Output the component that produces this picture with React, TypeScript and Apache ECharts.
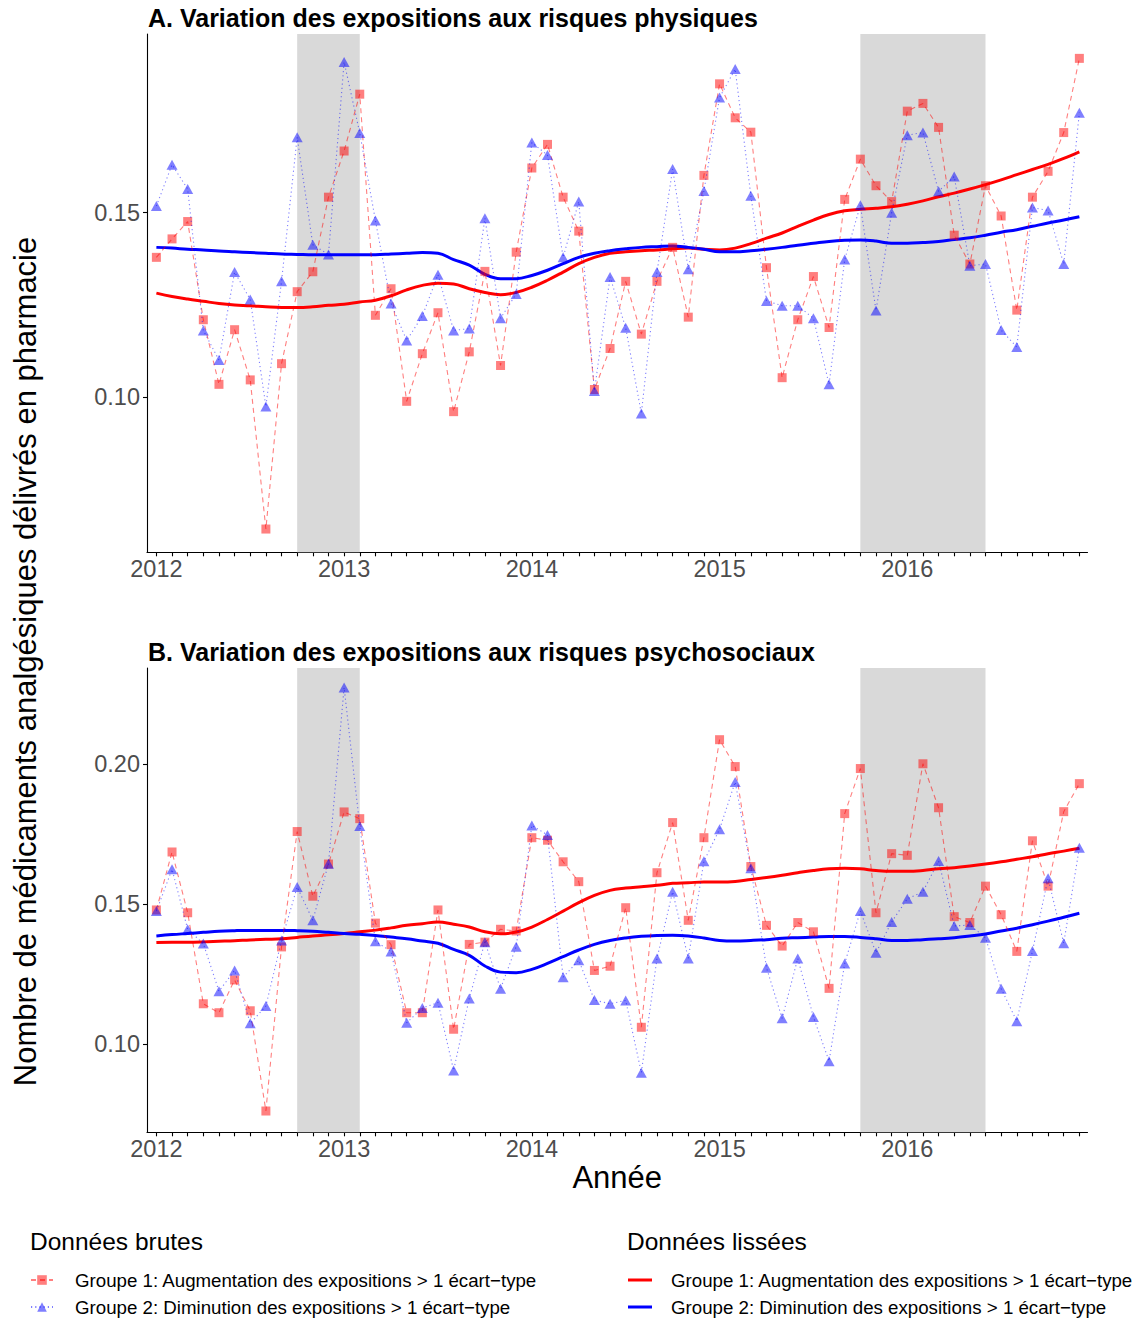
import React, { useEffect, useRef } from 'react';
import * as echarts from 'echarts';

// ---- categories / ticks ----
const MONTHS: number[] = Array.from({ length: 60 }, (_, i) => 2012 + i / 12);
const YEAR_TICKS = [2012, 2013, 2014, 2015, 2016];
const Y_TICKS_A = [0.1, 0.15];
const Y_TICKS_B = [0.1, 0.15, 0.2];
const SHADED: [number, number][] = [
  [2012.75, 2013 + 1 / 12],
  [2015.75, 2016 + 5 / 12],
];

// ---- names ----
const G1 = 'Groupe 1: Augmentation des expositions > 1 écart−type';
const G2 = 'Groupe 2: Diminution des expositions > 1 écart−type';
const SM = ' (lissé)';

// ---- Panel A: risques physiques ----
const A_RAW_G1 = [0.1379, 0.1429, 0.1476, 0.1210, 0.1035, 0.1183, 0.1047, 0.0643, 0.1091, 0.1286, 0.1340, 0.1542, 0.1667, 0.1821, 0.1222, 0.1294, 0.0989, 0.1118, 0.1229, 0.0961, 0.1123, 0.1341, 0.1086, 0.1393, 0.1621, 0.1685, 0.1542, 0.1450, 0.1021, 0.1132, 0.1314, 0.1171, 0.1314, 0.1406, 0.1217, 0.1601, 0.1849, 0.1757, 0.1718, 0.1351, 0.1053, 0.1210, 0.1327, 0.1189, 0.1536, 0.1645, 0.1573, 0.1530, 0.1775, 0.1796, 0.1731, 0.1439, 0.1361, 0.1573, 0.1491, 0.1236, 0.1542, 0.1612, 0.1717, 0.1918];
const A_RAW_G2 = [0.1518, 0.1630, 0.1564, 0.1181, 0.1101, 0.1339, 0.1265, 0.0975, 0.1314, 0.1704, 0.1413, 0.1387, 0.1908, 0.1716, 0.1479, 0.1254, 0.1154, 0.1220, 0.1332, 0.1181, 0.1186, 0.1485, 0.1214, 0.1280, 0.1690, 0.1656, 0.1379, 0.1530, 0.1017, 0.1326, 0.1188, 0.0956, 0.1339, 0.1618, 0.1347, 0.1559, 0.1812, 0.1889, 0.1546, 0.1261, 0.1248, 0.1248, 0.1214, 0.1035, 0.1373, 0.1520, 0.1235, 0.1500, 0.1710, 0.1717, 0.1558, 0.1598, 0.1356, 0.1361, 0.1182, 0.1136, 0.1514, 0.1506, 0.1361, 0.1771];
const A_SMOOTH_G1 = [0.1282, 0.1273, 0.1266, 0.1260, 0.1254, 0.1250, 0.1248, 0.1245, 0.1243, 0.1243, 0.1245, 0.1249, 0.1252, 0.1258, 0.1263, 0.1275, 0.1291, 0.1303, 0.1309, 0.1307, 0.1294, 0.1284, 0.1278, 0.1284, 0.1298, 0.1317, 0.1339, 0.1362, 0.1379, 0.1390, 0.1394, 0.1397, 0.1399, 0.1402, 0.1404, 0.1401, 0.1399, 0.1404, 0.1416, 0.1431, 0.1445, 0.1463, 0.1480, 0.1495, 0.1505, 0.1509, 0.1512, 0.1516, 0.1523, 0.1532, 0.1543, 0.1553, 0.1564, 0.1576, 0.1589, 0.1603, 0.1617, 0.1631, 0.1647, 0.1665];
const A_SMOOTH_G2 = [0.1406, 0.1404, 0.1401, 0.1399, 0.1396, 0.1394, 0.1392, 0.1390, 0.1388, 0.1387, 0.1386, 0.1386, 0.1386, 0.1386, 0.1386, 0.1388, 0.1390, 0.1392, 0.1390, 0.1373, 0.1358, 0.1333, 0.1321, 0.1321, 0.1330, 0.1344, 0.1362, 0.1379, 0.1390, 0.1397, 0.1402, 0.1406, 0.1408, 0.1410, 0.1406, 0.1401, 0.1394, 0.1394, 0.1397, 0.1401, 0.1406, 0.1412, 0.1417, 0.1422, 0.1425, 0.1426, 0.1423, 0.1417, 0.1417, 0.1419, 0.1422, 0.1427, 0.1432, 0.1439, 0.1447, 0.1454, 0.1463, 0.1472, 0.1480, 0.1489];

// ---- Panel B: risques psychosociaux ----
const B_RAW_G1 = [0.1480, 0.1687, 0.1470, 0.1145, 0.1113, 0.1230, 0.1120, 0.0762, 0.1348, 0.1760, 0.1529, 0.1644, 0.1830, 0.1806, 0.1433, 0.1356, 0.1113, 0.1113, 0.1480, 0.1054, 0.1357, 0.1365, 0.1411, 0.1405, 0.1738, 0.1729, 0.1652, 0.1581, 0.1264, 0.1279, 0.1488, 0.1061, 0.1613, 0.1792, 0.1443, 0.1738, 0.2088, 0.1992, 0.1635, 0.1425, 0.1351, 0.1435, 0.1402, 0.1200, 0.1824, 0.1985, 0.1470, 0.1681, 0.1675, 0.2002, 0.1845, 0.1456, 0.1435, 0.1565, 0.1463, 0.1332, 0.1727, 0.1565, 0.1831, 0.1931];
const B_RAW_G2 = [0.1476, 0.1625, 0.1411, 0.1360, 0.1190, 0.1264, 0.1075, 0.1137, 0.1371, 0.1562, 0.1443, 0.1645, 0.2274, 0.1780, 0.1368, 0.1332, 0.1077, 0.1130, 0.1149, 0.0907, 0.1164, 0.1365, 0.1199, 0.1349, 0.1782, 0.1748, 0.1240, 0.1300, 0.1158, 0.1145, 0.1157, 0.0899, 0.1307, 0.1545, 0.1307, 0.1654, 0.1768, 0.1937, 0.1629, 0.1274, 0.1093, 0.1307, 0.1098, 0.0940, 0.1289, 0.1476, 0.1327, 0.1437, 0.1520, 0.1545, 0.1655, 0.1423, 0.1426, 0.1381, 0.1199, 0.1083, 0.1333, 0.1593, 0.1361, 0.1702];
const B_SMOOTH_G1 = [0.1364, 0.1365, 0.1365, 0.1366, 0.1368, 0.1370, 0.1373, 0.1375, 0.1377, 0.1382, 0.1387, 0.1391, 0.1396, 0.1402, 0.1408, 0.1416, 0.1425, 0.1431, 0.1437, 0.1429, 0.1419, 0.1402, 0.1395, 0.1401, 0.1419, 0.1446, 0.1476, 0.1506, 0.1532, 0.1550, 0.1558, 0.1563, 0.1568, 0.1575, 0.1577, 0.1580, 0.1580, 0.1582, 0.1589, 0.1596, 0.1604, 0.1613, 0.1621, 0.1627, 0.1629, 0.1627, 0.1621, 0.1618, 0.1618, 0.1621, 0.1627, 0.1631, 0.1637, 0.1644, 0.1652, 0.1661, 0.1670, 0.1681, 0.1690, 0.1700];
const B_SMOOTH_G2 = [0.1387, 0.1392, 0.1396, 0.1400, 0.1404, 0.1406, 0.1407, 0.1407, 0.1407, 0.1406, 0.1404, 0.1400, 0.1396, 0.1393, 0.1389, 0.1383, 0.1377, 0.1369, 0.1361, 0.1339, 0.1318, 0.1280, 0.1258, 0.1256, 0.1268, 0.1289, 0.1313, 0.1337, 0.1357, 0.1371, 0.1380, 0.1386, 0.1389, 0.1390, 0.1387, 0.1380, 0.1371, 0.1369, 0.1371, 0.1374, 0.1379, 0.1381, 0.1383, 0.1385, 0.1385, 0.1382, 0.1377, 0.1371, 0.1371, 0.1374, 0.1377, 0.1381, 0.1387, 0.1394, 0.1405, 0.1415, 0.1427, 0.1440, 0.1454, 0.1468];

const TITLE_A = 'A. Variation des expositions aux risques physiques';
const TITLE_B = 'B. Variation des expositions aux risques psychosociaux';
const Y_TITLE = 'Nombre de médicaments analgésiques délivrés en pharmacie';
const X_TITLE = 'Année';
const LEG_RAW = 'Données brutes';
const LEG_SMOOTH = 'Données lissées';

const FONT = '"Liberation Sans", Arial, Helvetica, sans-serif';
const RED_A = 'rgba(255,0,0,0.5)';
const BLUE_A = 'rgba(0,0,255,0.5)';

const pair = (vals: number[]) => vals.map((v, i) => [MONTHS[i], v]);

function xAxisFor(gridIndex: number, withName: boolean) {
  return {
    type: 'value',
    gridIndex,
    min: 2011.95,
    max: 2016.96,
    name: withName ? X_TITLE : '',
    nameLocation: 'middle',
    nameGap: 30,
    nameTextStyle: { fontSize: 31, color: '#000', fontFamily: FONT },
    axisLine: { show: true, lineStyle: { color: '#000', width: 1.1 } },
    axisTick: { show: true, customValues: MONTHS, length: 4, lineStyle: { color: '#000', width: 1.1 } },
    axisLabel: {
      show: true,
      customValues: YEAR_TICKS,
      formatter: (v: number) => String(Math.round(v)),
      fontSize: 23.5,
      color: '#4D4D4D',
      margin: 5,
      fontFamily: FONT,
    },
    splitLine: { show: false },
  };
}

function yAxisFor(gridIndex: number, min: number, max: number, ticks: number[]) {
  return {
    type: 'value',
    gridIndex,
    min,
    max,
    axisLine: { show: true, lineStyle: { color: '#000', width: 1.1 } },
    axisTick: { show: true, customValues: ticks, length: 4, lineStyle: { color: '#000', width: 1.1 } },
    axisLabel: {
      show: true,
      customValues: ticks,
      formatter: (v: number) => v.toFixed(2),
      fontSize: 23.5,
      color: '#4D4D4D',
      margin: 7,
      fontFamily: FONT,
    },
    splitLine: { show: false },
  };
}

function panelSeries(idx: number, rawG1: number[], rawG2: number[], smG1: number[], smG2: number[]) {
  return [
    {
      type: 'line',
      name: 'shade' + idx,
      xAxisIndex: idx,
      yAxisIndex: idx,
      data: [],
      silent: true,
      markArea: {
        silent: true,
        itemStyle: { color: '#D9D9D9' },
        data: SHADED.map(([a, b]) => [{ xAxis: a }, { xAxis: b }]),
      },
    },
    {
      type: 'line',
      name: G1 + SM,
      xAxisIndex: idx,
      yAxisIndex: idx,
      data: pair(smG1),
      symbol: 'none',
      smooth: 0.4,
      z: 3,
      lineStyle: { color: '#FF0000', width: 3 },
      itemStyle: { color: '#FF0000' },
    },
    {
      type: 'line',
      name: G2 + SM,
      xAxisIndex: idx,
      yAxisIndex: idx,
      data: pair(smG2),
      symbol: 'none',
      smooth: 0.4,
      z: 3,
      lineStyle: { color: '#0000FF', width: 3 },
      itemStyle: { color: '#0000FF' },
    },
    {
      type: 'line',
      name: G1,
      xAxisIndex: idx,
      yAxisIndex: idx,
      data: pair(rawG1),
      symbol: 'rect',
      symbolSize: 9,
      z: 4,
      lineStyle: { color: RED_A, width: 1.1, type: [5, 4] },
      itemStyle: { color: RED_A },
    },
    {
      type: 'line',
      name: G2,
      xAxisIndex: idx,
      yAxisIndex: idx,
      data: pair(rawG2),
      symbol: 'triangle',
      symbolSize: [11, 10],
      z: 5,
      lineStyle: { color: BLUE_A, width: 1.1, type: [1.2, 3] },
      itemStyle: { color: BLUE_A },
    },
  ];
}

export default function App() {
  const ref = useRef<HTMLDivElement>(null);

  useEffect(() => {
    if (!ref.current) return;
    const chart = echarts.init(ref.current, undefined, { renderer: 'svg' });
    const option: any = {
      animation: false,
      backgroundColor: '#FFFFFF',
      textStyle: { fontFamily: FONT },
      grid: [
        { left: 147, right: 51.5, top: 34, height: 518.3 },
        { left: 147, right: 51.5, top: 668, height: 464.3 },
      ],
      xAxis: [xAxisFor(0, false), xAxisFor(1, true)],
      yAxis: [yAxisFor(0, 0.058, 0.1984, Y_TICKS_A), yAxisFor(1, 0.0686, 0.2344, Y_TICKS_B)],
      legend: [
        {
          data: [G1, G2],
          orient: 'vertical',
          left: 30,
          top: 1270,
          padding: 0,
          itemWidth: 22,
          itemHeight: 12,
          itemGap: 7,
          selectedMode: false,
          textStyle: { fontSize: 18.7, color: '#000', fontFamily: FONT, lineHeight: 20, padding: [0, 0, 0, 17] },
        },
        {
          data: [
            { name: G1 + SM, icon: 'rect', itemStyle: { color: '#FF0000' } },
            { name: G2 + SM, icon: 'rect', itemStyle: { color: '#0000FF' } },
          ],
          orient: 'vertical',
          left: 628,
          top: 1270,
          padding: 0,
          itemWidth: 24,
          itemHeight: 3,
          itemGap: 7,
          selectedMode: false,
          formatter: (name: string) => name.replace(SM, ''),
          textStyle: { fontSize: 18.7, color: '#000', fontFamily: FONT, lineHeight: 20, padding: [0, 0, 0, 14] },
        },
      ],
      graphic: [
        {
          type: 'text',
          x: 148,
          y: 18,
          style: { text: TITLE_A, font: `bold 25px ${FONT}`, fill: '#000', align: 'left', verticalAlign: 'middle' },
        },
        {
          type: 'text',
          x: 148,
          y: 652,
          style: { text: TITLE_B, font: `bold 25px ${FONT}`, fill: '#000', align: 'left', verticalAlign: 'middle' },
        },
        {
          type: 'text',
          x: 25,
          y: 661.5,
          rotation: Math.PI / 2,
          style: { text: Y_TITLE, font: `31px ${FONT}`, fill: '#000', align: 'center', verticalAlign: 'middle' },
        },
        {
          type: 'text',
          x: 30,
          y: 1241,
          style: { text: LEG_RAW, font: `24.5px ${FONT}`, fill: '#000', align: 'left', verticalAlign: 'middle' },
        },
        {
          type: 'text',
          x: 627,
          y: 1241,
          style: { text: LEG_SMOOTH, font: `24.5px ${FONT}`, fill: '#000', align: 'left', verticalAlign: 'middle' },
        },
      ],
      series: [
        ...panelSeries(0, A_RAW_G1, A_RAW_G2, A_SMOOTH_G1, A_SMOOTH_G2),
        ...panelSeries(1, B_RAW_G1, B_RAW_G2, B_SMOOTH_G1, B_SMOOTH_G2),
      ],
    };
    chart.setOption(option);
    return () => chart.dispose();
  }, []);

  return (
    <div
      ref={ref}
      style={{ position: 'fixed', left: 0, top: 0, width: 1139, height: 1319, background: '#fff' }}
    />
  );
}
